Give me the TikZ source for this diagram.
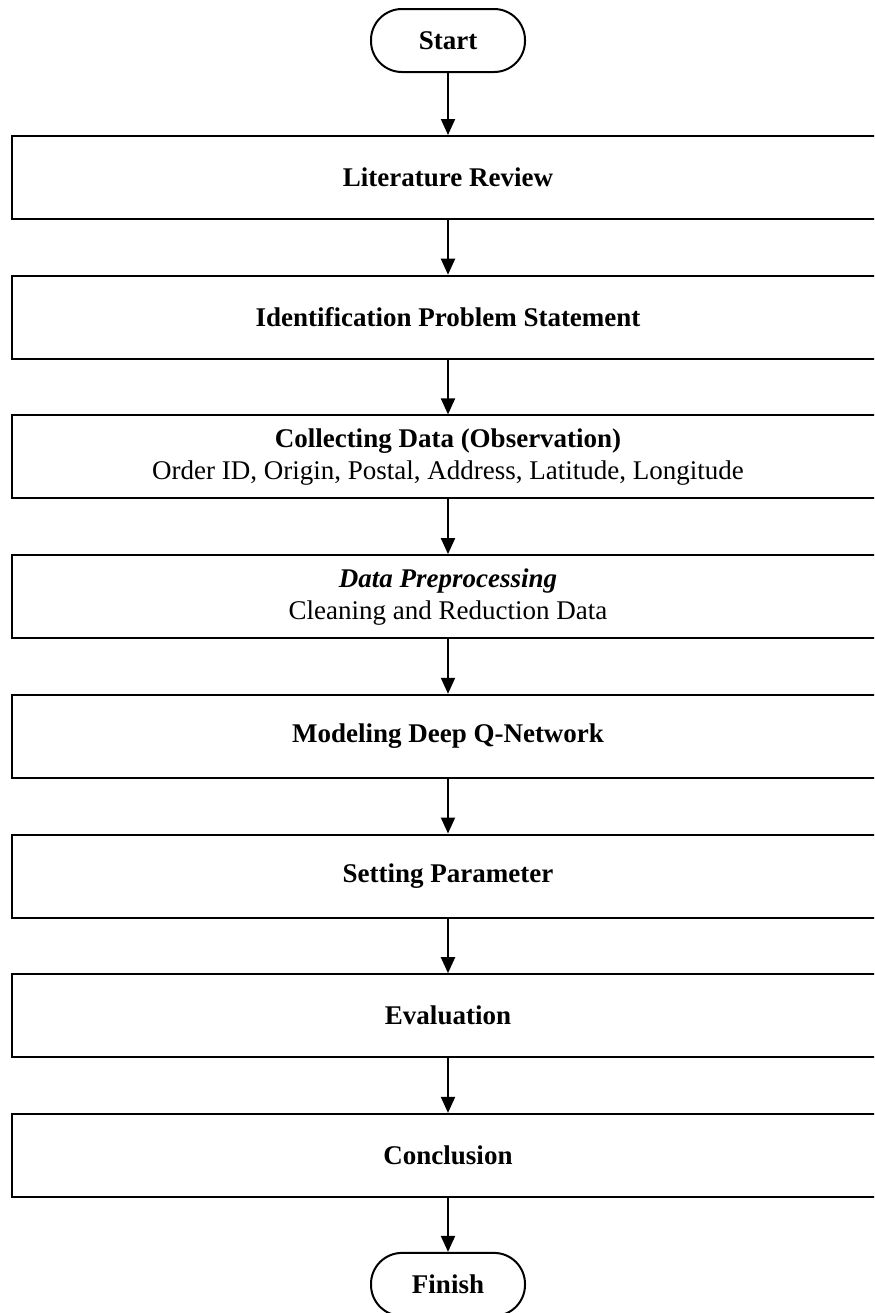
\documentclass[tikz,border=0pt]{standalone}
\usepackage{fontspec}
\setmainfont{Liberation Serif}
\usetikzlibrary{positioning,arrows.meta}

\begin{document}
\begin{tikzpicture}[node distance={69.85pt}, line width=1pt,
    stepbox/.style = {draw, rectangle, minimum width=436pt, minimum height=41.5pt, inner sep=0pt, align=center, font=\fontsize{13.5}{16}\selectfont},
    term/.style = {draw, rectangle, rounded corners=15.5pt, minimum width=77pt, minimum height=31.5pt, inner sep=0pt, font=\bfseries\fontsize{13.5}{16}\selectfont},
    flow/.style = {-{Triangle[length=8pt,width=7pt]}}]
        \useasboundingbox (0,0) rectangle (437pt,-656.5pt);
        \clip (0,0) rectangle (437pt,-656.5pt);
        \node[term] (start) at (224pt,-20.25pt) {Start};
        \node[stepbox] (lit)   [below of=start, node distance=68.5pt] {\textbf{Literature Review}};
        \node[stepbox] (ident) [below of=lit]   {\textbf{Identification Problem Statement}};
        \node[stepbox] (coll)  [below of=ident] {\textbf{Collecting Data (Observation)}\\Order ID, Origin, Postal, Address, Latitude, Longitude};
        \node[stepbox] (prep)  [below of=coll]  {\textbf{\textit{Data Preprocessing}}\\Cleaning and Reduction Data};
        \node[stepbox] (model) [below of=prep]  {\textbf{Modeling Deep Q-Network}};
        \node[stepbox] (param) [below of=model] {\textbf{Setting Parameter}};
        \node[stepbox] (eval)  [below of=param] {\textbf{Evaluation}};
        \node[stepbox] (concl) [below of=eval]  {\textbf{Conclusion}};
        \node[term] (finish)   [below of=concl, node distance=64.5pt] {Finish};
        \draw[flow] (start) -- (lit);
        \draw[flow] (lit) -- (ident);
        \draw[flow] (ident) -- (coll);
        \draw[flow] (coll) -- (prep);
        \draw[flow] (prep) -- (model);
        \draw[flow] (model) -- (param);
        \draw[flow] (param) -- (eval);
        \draw[flow] (eval) -- (concl);
        \draw[flow] (concl) -- (finish);
    \end{tikzpicture}
\end{document}
